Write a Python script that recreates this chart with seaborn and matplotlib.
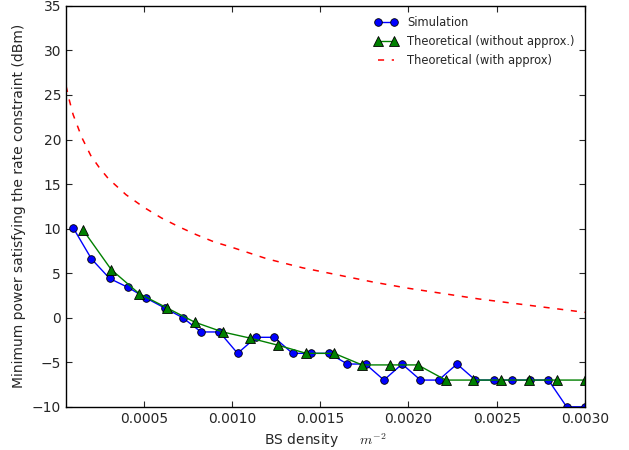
import matplotlib
matplotlib.use("Agg")
import matplotlib.pyplot as plt
import seaborn as sns

# 仿真结果（29 个密度点）
sim_x = [0.000100, 0.000204, 0.000307, 0.000411, 0.000514, 0.000618, 0.000721,
         0.000825, 0.000929, 0.001032, 0.001136, 0.001239, 0.001343, 0.001446,
         0.001550, 0.001654, 0.001757, 0.001861, 0.001964, 0.002068, 0.002171,
         0.002275, 0.002379, 0.002482, 0.002586, 0.002689, 0.002793, 0.002896,
         0.003000]
sim_y = [10.1, 6.6, 4.4, 3.4, 2.2, 1.1, 0.0, -1.6, -1.6, -4.0, -2.2, -2.2,
         -4.0, -4.0, -4.0, -5.2, -5.2, -7.0, -5.2, -7.0, -7.0, -5.2, -7.0,
         -7.0, -7.0, -7.0, -7.0, -10.0, -10.0]

# 理论值（无近似）
theo_x = [0.000158, 0.000316, 0.000474, 0.000632, 0.000789, 0.000947, 0.001105,
          0.001263, 0.001421, 0.001579, 0.001737, 0.001895, 0.002053, 0.002211,
          0.002368, 0.002526, 0.002684, 0.002842, 0.003000]
theo_y = [9.8, 5.4, 2.7, 1.1, -0.5, -1.6, -2.3, -3.1, -4.0, -4.0, -5.3, -5.3,
          -5.3, -7.0, -7.0, -7.0, -7.0, -7.0, -7.0]

# 理论值（近似）
appr_x = [0.00006, 0.00008, 0.0001, 0.00015, 0.0002, 0.00025, 0.0003, 0.0004,
          0.0005, 0.0006, 0.0007, 0.0008, 0.0009, 0.0010, 0.0012, 0.0014,
          0.0016, 0.0018, 0.0020, 0.0022, 0.0024, 0.0026, 0.0028, 0.0030]
appr_y = [26.0, 24.3, 22.8, 20.2, 18.2, 16.8, 15.6, 13.8, 12.4, 11.2, 10.2,
          9.3, 8.5, 7.9, 6.6, 5.6, 4.8, 4.0, 3.3, 2.7, 2.1, 1.6, 1.1, 0.6]

x_ticks = [0.0005, 0.0010, 0.0015, 0.0020, 0.0025, 0.0030]
x_tick_labels = ["0.0005", "0.0010", "0.0015", "0.0020", "0.0025", "0.0030"]
y_ticks = [-10, -5, 0, 5, 10, 15, 20, 25, 30, 35]

sns.set_theme(style="ticks", rc={
    "xtick.direction": "in", "ytick.direction": "in",
    "xtick.top": True, "ytick.right": True,
    "xtick.major.size": 4, "ytick.major.size": 4,
    "axes.edgecolor": "black", "axes.linewidth": 1.0,
    "mathtext.fontset": "cm",
})
plt.rcParams["font.family"] = ["DejaVu Sans"]

fig = plt.figure(figsize=(6.29, 4.5), dpi=100)
ax = fig.add_axes([0.105, 0.096, 0.825, 0.891])

sns.lineplot(x=sim_x, y=sim_y, ax=ax, color="blue", marker="o", markersize=5.5,
             markerfacecolor="blue", markeredgecolor="black", markeredgewidth=0.6,
             linewidth=1.0, label="Simulation")
sns.lineplot(x=theo_x, y=theo_y, ax=ax, color="green", marker="^", markersize=6.5,
             markerfacecolor="green", markeredgecolor="black", markeredgewidth=0.6,
             linewidth=1.0, label="Theoretical (without approx.)")
sns.lineplot(x=appr_x, y=appr_y, ax=ax, color="red", linewidth=1.1,
             linestyle="--", label="Theoretical (with approx)")
ax.lines[-1].set_dashes([4, 5])

ax.set_xlim(0.00006, 0.003)
ax.set_ylim(-10, 35)
ax.set_xticks(x_ticks)
ax.set_xticklabels(x_tick_labels)
ax.set_yticks(y_ticks)
ax.tick_params(labelsize=10, width=0.8)

ax.set_xlabel("BS density     $m^{-2}$", fontsize=10, labelpad=4)
ax.set_ylabel("Minimum power satisfying the rate constraint (dBm)", fontsize=10)

leg = ax.legend(loc="upper right", frameon=False, fontsize=8.3, numpoints=2,
                handlelength=2.0)
for h in leg.get_lines():
    if h.get_color() == "red":
        h.set_dashes([4, 5])

fig.savefig("out.png", dpi=100)
